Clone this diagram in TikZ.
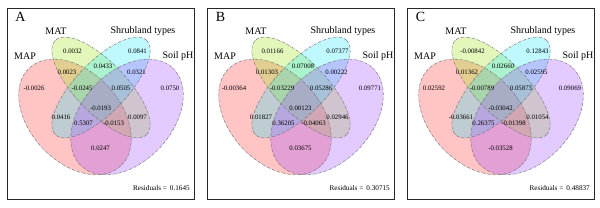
\documentclass[tikz,border=0pt]{standalone}
\usepackage{fontspec}
\setmainfont{Liberation Serif}
\usepackage{tikz}
\usetikzlibrary{positioning}
\definecolor{mapred}{RGB}{255,40,40}
\definecolor{matgreen}{RGB}{165,230,30}
\definecolor{shrubcyan}{RGB}{0,235,255}
\definecolor{phpurple}{RGB}{165,80,255}
% four ellipses, frame and set names (same in every panel)
\newcommand{\vennbase}{%
  \fill[mapred, fill opacity=0.27, rotate around={47:(75,117)}] (75,117) ellipse [x radius=67, y radius=45];
  \fill[matgreen, fill opacity=0.3, rotate around={46:(101,87.5)}] (101,87.5) ellipse [x radius=65.6, y radius=25.5];
  \fill[shrubcyan, fill opacity=0.25, rotate around={-46:(101,87.5)}] (101,87.5) ellipse [x radius=65.6, y radius=25.5];
  \fill[phpurple, fill opacity=0.3, rotate around={-47:(127,117)}] (127,117) ellipse [x radius=67, y radius=45];
  \draw[outline, rotate around={47:(75,117)}] (75,117) ellipse [x radius=67, y radius=45];
  \draw[outline, rotate around={46:(101,87.5)}] (101,87.5) ellipse [x radius=65.6, y radius=25.5];
  \draw[outline, rotate around={-46:(101,87.5)}] (101,87.5) ellipse [x radius=65.6, y radius=25.5];
  \draw[outline, rotate around={-47:(127,117)}] (127,117) ellipse [x radius=67, y radius=45];
  \draw[frame] (7,8) rectangle (194,199);
  \node[cat] (map) at (25,56) {MAP};
  \node[cat] (mat) at (56,31) {MAT};
  \node[cat] (shr) at (143,31) {Shrubland types};
  \node[cat] (ph) at (178,56) {Soil pH};
}

\begin{document}
\begin{tikzpicture}[x=1pt, y=1pt,
  frame/.style={draw=black!85, line width=0.8pt},
  outline/.style={draw=black!55, densely dash dot, line width=0.45pt},
  tag/.style={font=\fontsize{14}{14}\selectfont, inner sep=0pt},
  cat/.style={font=\fontsize{10}{12}\selectfont, inner sep=1pt},
  val/.style={font=\fontsize{6.8}{8}\selectfont, inner sep=0.5pt},
  res/.style={font=\fontsize{7.2}{8}\selectfont, anchor=east, inner sep=0pt}]
\useasboundingbox[fill=white] (0,0) rectangle (600,208);

% A
\begin{scope}[shift={(0,208)}, yscale=-1, name prefix=a-]
\vennbase
\node[tag] (tag) at (20.5,16.5) {A};
\node[val] (m) at (34,88) {-0.0026};
\node[val] (t) at (72.5,51) {0.0032};
\node[val] (s) at (137.5,51) {0.0841};
\node[val] (p) at (170,88) {0.0750};
\node[val] (mt) at (67,72) {0.0023};
\node[val] (ts) at (103,66.5) {0.0433};
\node[val] (sp) at (136.5,72) {0.0321};
\node[val] (mts) at (82,88) {-0.0245};
\node[val] (tsp) at (121,88) {0.0505};
\node[val] (all) at (100.5,108) {-0.0193};
\node[val] (ms) at (61,117) {0.0416};
\node[val] (tp) at (137.5,117) {0.0097};
\node[val] (msp) at (83.5,123) {0.5307};
\node[val] (mtp) at (113.5,123) {-0.0153};
\node[val] (mp) at (100.5,148) {0.0247};
\node[res] (res) at (190,188) {Residuals = \,0.1645};
\end{scope}

% B
\begin{scope}[shift={(200,208)}, yscale=-1, name prefix=b-]
\vennbase
\node[tag] (tag) at (20.5,16.5) {B};
\node[val] (m) at (34,88) {-0.00364};
\node[val] (t) at (72.5,51) {0.01166};
\node[val] (s) at (137.5,51) {0.07377};
\node[val] (p) at (170,88) {0.09771};
\node[val] (mt) at (67,72) {0.01303};
\node[val] (ts) at (103,66.5) {0.07008};
\node[val] (sp) at (136.5,72) {0.00222};
\node[val] (mts) at (82,88) {-0.03229};
\node[val] (tsp) at (121,88) {0.05286};
\node[val] (all) at (100.5,108) {0.00123};
\node[val] (ms) at (61,117) {0.01827};
\node[val] (tp) at (137.5,117) {0.02946};
\node[val] (msp) at (83.5,123) {0.36205};
\node[val] (mtp) at (113.5,123) {-0.04063};
\node[val] (mp) at (100.5,148) {0.03675};
\node[res] (res) at (190,188) {Residuals = \,0.30715};
\end{scope}

% C
\begin{scope}[shift={(400,208)}, yscale=-1, name prefix=c-]
\vennbase
\node[tag] (tag) at (20.5,16.5) {C};
\node[val] (m) at (34,88) {0.02592};
\node[val] (t) at (72.5,51) {-0.00842};
\node[val] (s) at (137.5,51) {0.12843};
\node[val] (p) at (170,88) {0.09069};
\node[val] (mt) at (67,72) {0.01362};
\node[val] (ts) at (103,66.5) {0.02660};
\node[val] (sp) at (136.5,72) {0.02595};
\node[val] (mts) at (82,88) {-0.00789};
\node[val] (tsp) at (121,88) {0.05873};
\node[val] (all) at (100.5,108) {-0.03042};
\node[val] (ms) at (61,117) {-0.03661};
\node[val] (tp) at (137.5,117) {0.01054};
\node[val] (msp) at (83.5,123) {0.26375};
\node[val] (mtp) at (113.5,123) {-0.01398};
\node[val] (mp) at (100.5,148) {-0.03528};
\node[res] (res) at (190,188) {Residuals = \,0.48837};
\end{scope}
\end{tikzpicture}
\end{document}
